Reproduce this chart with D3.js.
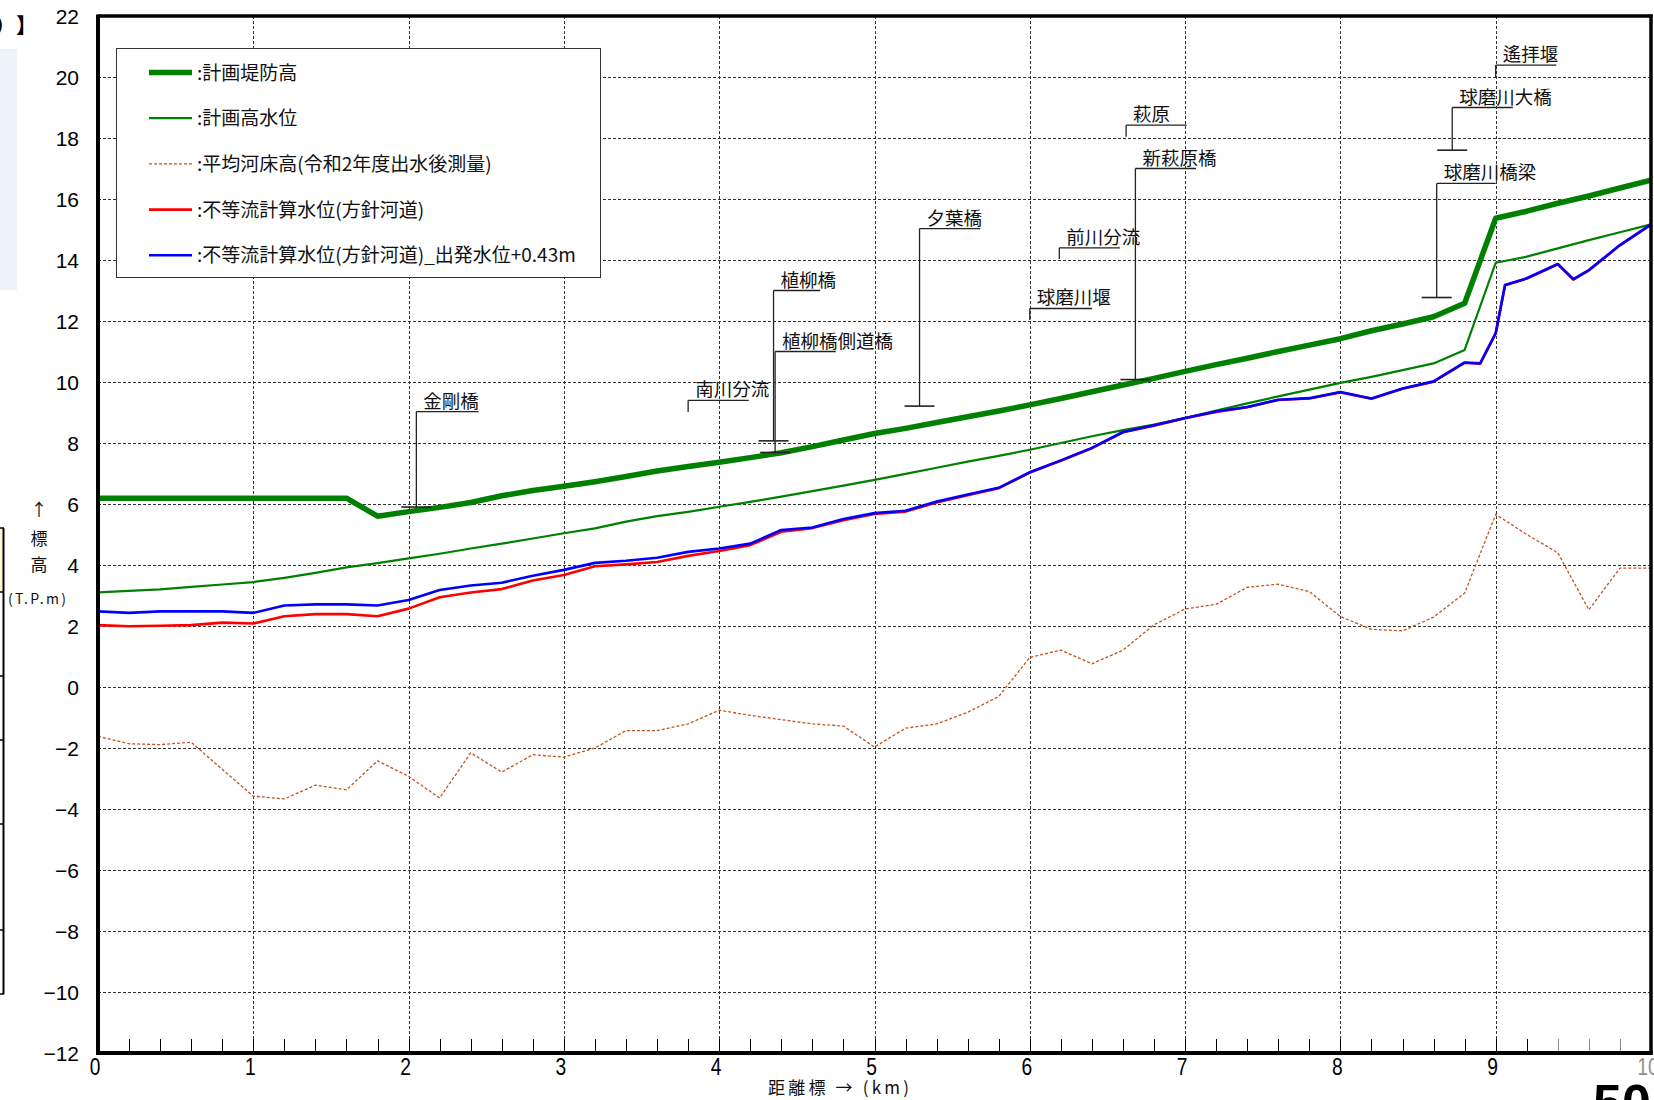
<!DOCTYPE html>
<html>
<head>
<meta charset="utf-8">
<script src="https://cdn.jsdelivr.net/npm/d3@7"></script>
<style>
  html, body { margin: 0; padding: 0; background: #fff; overflow: hidden; }
  svg { display: block; }
</style>
</head>
<body>
<svg id="chart" width="1654" height="1100"></svg>
<script>
// ---- Data -------------------------------------------------------------
// Cross-section distances (km) of the 0.2 km survey grid
const sectionKm = [0, 0.2, 0.4, 0.6, 0.8, 1.0, 1.2, 1.4, 1.6, 1.8,
  2.0, 2.2, 2.4, 2.6, 2.8, 3.0, 3.2, 3.4, 3.6, 3.8,
  4.0, 4.2, 4.4, 4.6, 4.8, 5.0, 5.2, 5.4, 5.6, 5.8,
  6.0, 6.2, 6.4, 6.6, 6.8, 7.0, 7.2, 7.4, 7.6, 7.8,
  8.0, 8.2, 8.4, 8.6, 8.8, 9.0, 9.2, 9.4, 9.6, 9.8, 10.0];

// 計画堤防高 (T.P.m)
const leveeHeight = [6.19, 6.19, 6.19, 6.19, 6.19, 6.19, 6.19, 6.19, 6.19, 5.60,
  5.75, 5.89, 6.05, 6.27, 6.44, 6.58, 6.73, 6.90, 7.08, 7.23,
  7.37, 7.52, 7.68, 7.88, 8.10, 8.31, 8.48, 8.67, 8.86, 9.05,
  9.25, 9.46, 9.68, 9.90, 10.12, 10.35, 10.57, 10.78, 11.00, 11.21,
  11.42, 11.68, 11.90, 12.14, 12.58, 15.37, 15.60, 15.86, 16.10, 16.36, 16.62];

// 計画高水位 (T.P.m)
const planHWL = [3.10, 3.15, 3.20, 3.28, 3.36, 3.44, 3.58, 3.74, 3.92, 4.06,
  4.22, 4.37, 4.54, 4.70, 4.87, 5.04, 5.20, 5.42, 5.60, 5.74,
  5.91, 6.07, 6.24, 6.42, 6.60, 6.79, 6.99, 7.19, 7.39, 7.58,
  7.78, 8.00, 8.22, 8.42, 8.60, 8.82, 9.06, 9.30, 9.53, 9.75,
  9.97, 10.17, 10.39, 10.61, 11.05, 13.91, 14.11, 14.38, 14.65, 14.91, 15.17];

// 平均河床高(令和2年度出水後測量) (T.P.m)
const bedHeight = [-1.62, -1.86, -1.89, -1.81, -2.70, -3.58, -3.67, -3.22, -3.37, -2.42,
  -2.93, -3.64, -2.16, -2.79, -2.22, -2.30, -2.00, -1.43, -1.43, -1.21,
  -0.76, -0.93, -1.07, -1.21, -1.28, -1.97, -1.35, -1.21, -0.83, -0.31,
  0.97, 1.21, 0.76, 1.21, 2.04, 2.56, 2.71, 3.27, 3.37, 3.13,
  2.31, 1.89, 1.84, 2.29, 3.08, 5.66, 5.00, 4.40, 2.53, 3.90, 3.90];

// Sections used by the non-uniform flow computation (km)
const calcKm = [0, 0.2, 0.4, 0.6, 0.8, 1.0, 1.2, 1.4, 1.6, 1.8,
  2.0, 2.2, 2.4, 2.6, 2.8, 3.0, 3.2, 3.4, 3.6, 3.8,
  4.0, 4.2, 4.4, 4.6, 4.8, 5.0, 5.2, 5.4, 5.6, 5.8,
  6.0, 6.2, 6.4, 6.6, 6.8, 7.0, 7.2, 7.4, 7.6, 7.8,
  8.0, 8.2, 8.4, 8.6, 8.8, 8.9, 9.0, 9.06, 9.2, 9.4, 9.5, 9.6, 9.8, 10.0];

// 不等流計算水位(方針河道)
const calcWL = [2.03, 1.99, 2.01, 2.03, 2.11, 2.08, 2.32, 2.39, 2.39, 2.32,
  2.57, 2.94, 3.10, 3.21, 3.49, 3.67, 3.96, 4.02, 4.10, 4.30,
  4.46, 4.65, 5.09, 5.21, 5.47, 5.67, 5.75, 6.05, 6.29, 6.52,
  7.03, 7.42, 7.83, 8.35, 8.57, 8.81, 9.02, 9.17, 9.41, 9.46,
  9.66, 9.45, 9.78, 10.01, 10.63, 10.60, 11.59, 13.17, 13.39, 13.86, 13.36, 13.66, 14.48, 15.16];

// 不等流計算水位(方針河道)_出発水位+0.43m
const calcWLPlus = [2.48, 2.43, 2.48, 2.48, 2.48, 2.43, 2.67, 2.71, 2.71, 2.67,
  2.85, 3.18, 3.33, 3.42, 3.65, 3.84, 4.07, 4.14, 4.24, 4.43,
  4.54, 4.70, 5.15, 5.23, 5.51, 5.70, 5.78, 6.08, 6.31, 6.53,
  7.04, 7.43, 7.84, 8.36, 8.58, 8.82, 9.03, 9.18, 9.42, 9.47,
  9.67, 9.46, 9.79, 10.02, 10.64, 10.61, 11.60, 13.18, 13.40, 13.87, 13.37, 13.67, 14.49, 15.17];

// Structures and branch points along the river
const siteNames = ['金剛橋', '南川分流', '植柳橋', '植柳橋側道橋', '夕葉橋', '球磨川堰',
  '前川分流', '萩原', '新萩原橋', '球磨川橋梁', '球磨川大橋', '遙拝堰'];
const siteKm = [2.05, 3.80, 4.35, 4.36, 5.29, 6.00, 6.19, 6.62, 6.68, 8.62, 8.72, 9.00];
const siteBase = [5.90, 9.02, 8.07, 7.69, 9.21, 12.03, 14.03, 18.04, 10.08, 12.77, 17.60, 20.00];
const siteTop = [9.03, 9.40, 13.00, 11.00, 15.03, 12.41, 14.40, 18.42, 17.00, 16.51, 19.00, 20.39];
const siteIsBridge = [true, false, true, true, true, false, false, false, true, true, true, false];
const siteRuleKm = [0.40, 0.39, 0.30, 0.39, 0.39, 0.40, 0.39, 0.39, 0.39, 0.38, 0.39, 0.39];

// Axis ticks
const xTickValues = [0, 1, 2, 3, 4, 5, 6, 7, 8, 9, 10];
const xTickLabels = ['0', '1', '2', '3', '4', '5', '6', '7', '8', '9', '10'];
const yTickValues = [22, 20, 18, 16, 14, 12, 10, 8, 6, 4, 2, 0, -2, -4, -6, -8, -10, -12];
const yTickLabels = ['22', '20', '18', '16', '14', '12', '10', '8', '6', '4', '2', '0',
  '\u22122', '\u22124', '\u22126', '\u22128', '\u221210', '\u221212'];

const legendLabels = [':計画堤防高', ':計画高水位', ':平均河床高(令和2年度出水後測量)',
  ':不等流計算水位(方針河道)', ':不等流計算水位(方針河道)_出発水位+0.43m'];

// ---- Layout ----------------------------------------------------------
const svg = d3.select('#chart');
const plot = { left: 98, right: 1651, top: 16, bottom: 1053 };
const x = d3.scaleLinear().domain([0, 10]).range([plot.left, plot.right]);
const y = d3.scaleLinear().domain([-12, 22]).range([plot.bottom, plot.top]);
const CJK = "'Noto Sans CJK JP', 'Noto Sans CJK SC', sans-serif";
const LATIN = "'Liberation Sans', Arial, sans-serif";

// Page fragments at the left edge
svg.append('rect').attr('x', 0).attr('y', 49).attr('width', 17).attr('height', 241)
  .attr('fill', '#eef3f9');
svg.append('text').attr('x', -5).attr('y', 33).attr('font-family', CJK)
  .attr('font-size', 20).attr('font-weight', 700).text('）');
svg.append('text').attr('x', 16).attr('y', 33).attr('font-family', CJK)
  .attr('font-size', 21).attr('font-weight', 700).text('】');
svg.append('rect').attr('x', 0).attr('y', 528).attr('width', 3).attr('height', 64)
  .attr('fill', '#fcf8d6');
svg.append('line').attr('x1', 3.5).attr('x2', 3.5).attr('y1', 528).attr('y2', 994)
  .attr('stroke', '#000').attr('stroke-width', 2);
[528, 592, 676, 740, 824, 930, 994].forEach(v => {
  svg.append('line').attr('x1', 0).attr('x2', 4).attr('y1', v).attr('y2', v)
    .attr('stroke', '#000').attr('stroke-width', 1.5);
});

// ---- Grid ------------------------------------------------------------
const grid = svg.append('g').attr('stroke', '#333').attr('stroke-width', 1)
  .attr('stroke-dasharray', '3,2').attr('fill', 'none');
yTickValues.filter(v => v > -12 && v < 22).forEach(v => {
  grid.append('line').attr('x1', plot.left).attr('x2', plot.right)
    .attr('y1', Math.round(y(v)) + 0.5).attr('y2', Math.round(y(v)) + 0.5);
});
xTickValues.filter(v => v > 0 && v < 10).forEach(v => {
  grid.append('line').attr('y1', plot.top).attr('y2', plot.bottom)
    .attr('x1', Math.round(x(v)) + 0.5).attr('x2', Math.round(x(v)) + 0.5);
});

// Minor ticks every 0.2 km along the bottom axis
const minor = svg.append('g').attr('stroke', '#000').attr('stroke-width', 1);
d3.range(1, 50).forEach(i => {
  const px = Math.round(x(i * 0.2)) + 0.5;
  minor.append('line').attr('x1', px).attr('x2', px)
    .attr('y1', plot.bottom - 14).attr('y2', plot.bottom);
});

// ---- Series ----------------------------------------------------------
const line = d3.line().x(d => x(d[0])).y(d => y(d[1]));
const zipS = vals => sectionKm.map((k, i) => [k, vals[i]]);
const zipC = vals => calcKm.map((k, i) => [k, vals[i]]);

const series = [
  { pts: zipS(bedHeight), color: '#c0561d', width: 1.3, dash: '3,2' },
  { pts: zipS(planHWL), color: '#008000', width: 2.2, dash: null },
  { pts: zipS(leveeHeight), color: '#008000', width: 5.5, dash: null },
  { pts: zipC(calcWL), color: '#ff0000', width: 2.6, dash: null },
  { pts: zipC(calcWLPlus), color: '#0000ff', width: 2.6, dash: null }
];
series.forEach(s => {
  svg.append('path').attr('d', line(s.pts)).attr('fill', 'none')
    .attr('stroke', s.color).attr('stroke-width', s.width)
    .attr('stroke-linejoin', 'round')
    .attr('stroke-dasharray', s.dash);
});

// ---- Site annotations -------------------------------------------------
const ann = svg.append('g');
siteNames.forEach((name, i) => {
  const px = x(siteKm[i]);
  const yb = y(siteBase[i]);
  const yt = y(siteTop[i]);
  const g = ann.append('g').attr('stroke', '#222').attr('stroke-width', 1.3);
  g.append('line').attr('x1', px).attr('x2', px).attr('y1', yb).attr('y2', yt);
  g.append('line').attr('x1', px).attr('x2', x(siteKm[i] + siteRuleKm[i]))
    .attr('y1', yt).attr('y2', yt);
  if (siteIsBridge[i]) {
    g.append('line').attr('x1', px - 15).attr('x2', px + 15).attr('y1', yb).attr('y2', yb)
      .attr('stroke-width', 1.6);
  }
  ann.append('text').attr('x', px + 7).attr('y', yt - 4)
    .attr('font-family', CJK).attr('font-size', 18.5).attr('fill', '#111').text(name);
});

// ---- Legend ----------------------------------------------------------
const legend = svg.append('g');
legend.append('rect').attr('x', 116.5).attr('y', 48.5).attr('width', 484).attr('height', 229)
  .attr('fill', '#fff').attr('stroke', '#333').attr('stroke-width', 1);
const legendOrder = [2, 1, 0, 3, 4];
legendLabels.forEach((lab, i) => {
  const s = series[legendOrder[i]];
  const cy = 72.5 + i * 45.7;
  legend.append('line').attr('x1', 149).attr('x2', 192).attr('y1', cy).attr('y2', cy)
    .attr('stroke', s.color).attr('stroke-width', s.width)
    .attr('stroke-dasharray', s.dash);
  legend.append('text').attr('x', 197).attr('y', cy + 7)
    .attr('font-family', CJK).attr('font-size', 19).attr('fill', '#111').text(lab);
});

// ---- Axes ------------------------------------------------------------
yTickValues.forEach((v, i) => {
  svg.append('text').attr('x', 79).attr('y', y(v) + 7.5).attr('text-anchor', 'end')
    .attr('font-family', LATIN).attr('font-size', 21).attr('fill', '#000')
    .text(yTickLabels[i]);
});
xTickValues.forEach((v, i) => {
  svg.append('text').attr('transform', `translate(${x(v) - 3},1075) scale(0.8,1)`)
    .attr('text-anchor', 'middle').attr('font-family', LATIN).attr('font-size', 24)
    .attr('fill', '#000').text(xTickLabels[i]);
});

// Axis titles
svg.append('text').attr('x', 768).attr('y', 1094).attr('font-family', CJK)
  .attr('font-size', 17).attr('textLength', 141).attr('lengthAdjust', 'spacing')
  .attr('fill', '#111').text('距離標 → (km)');
const yTitle = svg.append('g').attr('font-family', CJK).attr('fill', '#111')
  .attr('text-anchor', 'middle');
yTitle.append('text').attr('x', 39).attr('y', 516).attr('font-size', 17).text('↑');
yTitle.append('text').attr('x', 39).attr('y', 545).attr('font-size', 17).text('標');
yTitle.append('text').attr('x', 39).attr('y', 571).attr('font-size', 17).text('高');
yTitle.append('text').attr('x', 37).attr('y', 604).attr('font-size', 14)
  .attr('textLength', 58).attr('lengthAdjust', 'spacing').text('(T.P.m)');

// Plot frame
const frame = svg.append('g').attr('stroke', '#000').attr('fill', 'none');
frame.append('line').attr('x1', plot.left).attr('x2', plot.right + 1.5)
  .attr('y1', plot.top).attr('y2', plot.top).attr('stroke-width', 3.5);
frame.append('line').attr('x1', plot.left).attr('x2', plot.right + 1.5)
  .attr('y1', plot.bottom).attr('y2', plot.bottom).attr('stroke-width', 4);
frame.append('line').attr('x1', plot.left).attr('x2', plot.left)
  .attr('y1', plot.top - 1.5).attr('y2', plot.bottom + 2).attr('stroke-width', 4);

// Page-number plate over the lower right corner
svg.append('rect').attr('x', 1544).attr('y', 1036).attr('width', 110).attr('height', 64)
  .attr('fill', '#fff').attr('fill-opacity', 0.55);
frame.raise();
frame.append('line').attr('x1', plot.right).attr('x2', plot.right)
  .attr('y1', plot.top - 1.5).attr('y2', plot.bottom + 2).attr('stroke-width', 3.5);
svg.append('text').attr('x', 1593).attr('y', 1121).attr('font-family', LATIN)
  .attr('font-size', 52).attr('font-weight', 700).attr('fill', '#000').text('50');
</script>
</body>
</html>
